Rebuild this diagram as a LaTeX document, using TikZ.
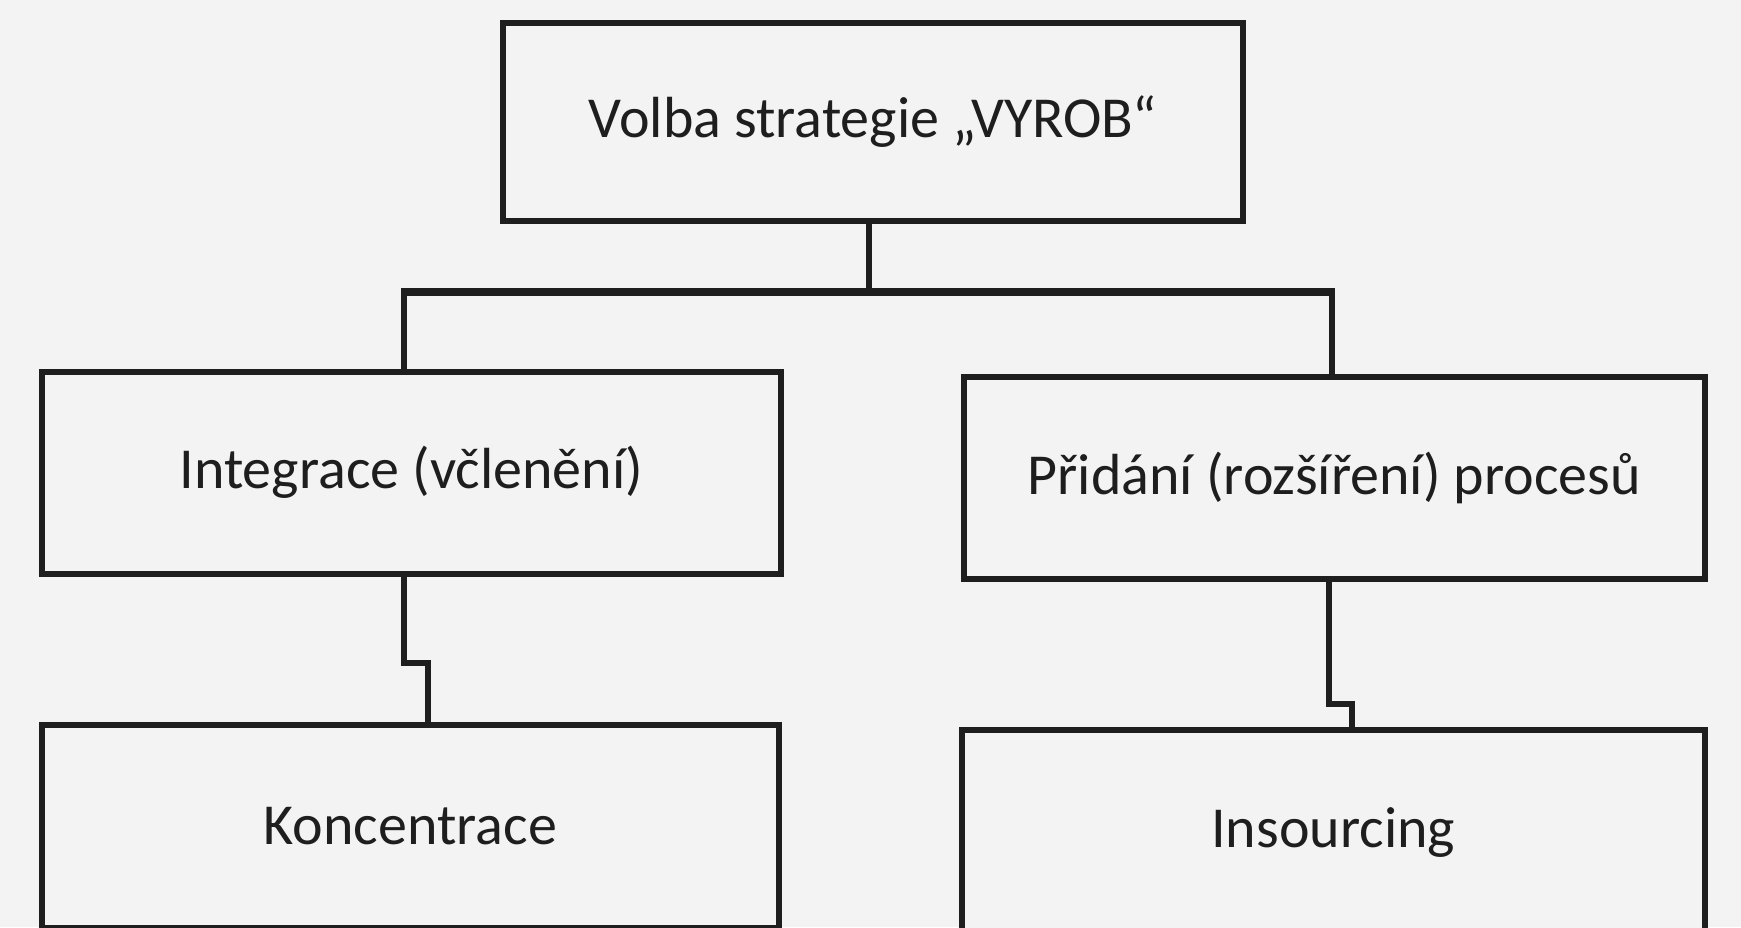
\documentclass[tikz,border=0pt]{standalone}
\usepackage{fontspec}
\setmainfont{Carlito}
\definecolor{ink}{HTML}{1E1E1E}
\definecolor{paper}{HTML}{F3F3F3}
\begin{document}
\begin{tikzpicture}[x=1pt,y=-1pt,
  box/.style={draw=ink, line width=5.5pt, fill=paper, inner sep=0pt, anchor=north west,
    font=\fontsize{58}{66}\selectfont, text=ink},
  link/.style={draw=ink, line width=5.5pt},
  bar/.style={draw=ink, line width=8pt}]
\fill[paper] (0,0) rectangle (1741,927);
\useasboundingbox (0,0) rectangle (1741,927);
\node[box, minimum width=740pt, minimum height=198pt] (top) at (500,20) {Volba strategie „VYROB“};
\node[box, minimum width=739pt, minimum height=202pt] (integ) at (39,369) {Integrace (včlenění)};
\node[box, minimum width=741pt, minimum height=202pt] (prid) at (961,374) {Přidání (rozšíření) procesů};
\node[box, minimum width=737pt, minimum height=203pt] (konc) at (39,722) {Koncentrace};
\node[box, minimum width=743pt, minimum height=205pt] (ins) at (959,727) {Insourcing};
% connectors
\coordinate (busL) at (404,292);
\coordinate (busR) at (1332,292);
\coordinate (busM) at (869,292);
\draw[link] (top.south -| busM) -- (busM);
\draw[bar] ([xshift=-2.75pt]busL) -- ([xshift=2.75pt]busR);
\draw[link] (busL) -- (busL |- integ.north);
\draw[link] (busR) -- (busR |- prid.north);
\coordinate (stepLa) at (404,663);
\coordinate (stepLb) at (428,663);
\draw[link, line join=miter] (integ.south -| stepLa) -- (stepLa) -- (stepLb) -- (konc.north -| stepLb);
\coordinate (stepRa) at (1329,704);
\coordinate (stepRb) at (1352,704);
\draw[link, line join=miter] (prid.south -| stepRa) -- (stepRa) -- (stepRb) -- (ins.north -| stepRb);
\end{tikzpicture}
\end{document}
